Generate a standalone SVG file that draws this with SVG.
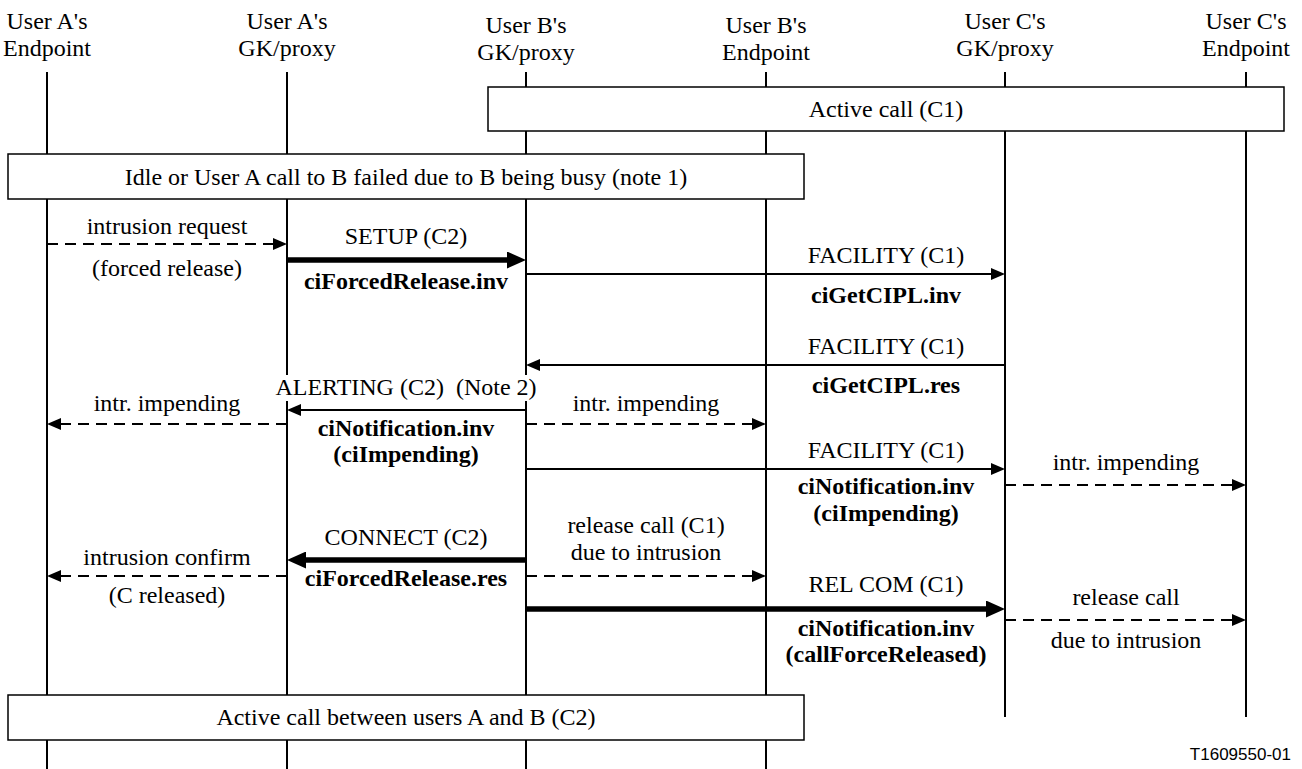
<svg xmlns="http://www.w3.org/2000/svg" width="1302" height="769" viewBox="0 0 1302 769">
  <defs>
    <style>
      text { font-family: "Liberation Serif", "Times New Roman", serif; font-size: 24px; fill: #000; text-anchor: middle; }
      .b { font-weight: bold; }
      .life { stroke: #000; stroke-width: 2; }
      .box { fill: #fff; stroke: #000; stroke-width: 1.5; }
      .msg { stroke: #000; stroke-width: 2; fill: none; }
      .thick { stroke-width: 5.5; }
      .dash { stroke-dasharray: 11 7; }
      .ref { font-family: "Liberation Sans", Arial, sans-serif; font-size: 17px; text-anchor: end; }
    </style>
    <marker id="ah" markerUnits="userSpaceOnUse" markerWidth="14" markerHeight="12" refX="0" refY="6" orient="auto">
      <path d="M0,0 L14,6 L0,12 z" fill="#000"/>
    </marker>
    <marker id="ahT" markerUnits="userSpaceOnUse" markerWidth="19" markerHeight="17" refX="0" refY="8.5" orient="auto">
      <path d="M0,0 L19,8.5 L0,17 z" fill="#000"/>
    </marker>
  </defs>

  <rect x="0" y="0" width="1302" height="769" fill="#fff"/>

  <!-- participants: header text and lifeline -->
  <g id="a-endpoint">
    <text x="47" y="29">User A's</text>
    <text x="47" y="56">Endpoint</text>
    <line class="life" x1="47" y1="72" x2="47" y2="769"/>
  </g>
  <g id="a-gk">
    <text x="287" y="29">User A's</text>
    <text x="287" y="56">GK/proxy</text>
    <line class="life" x1="287" y1="72" x2="287" y2="769"/>
  </g>
  <g id="b-gk">
    <text x="526" y="33">User B's</text>
    <text x="526" y="60">GK/proxy</text>
    <line class="life" x1="526" y1="72" x2="526" y2="769"/>
  </g>
  <g id="b-endpoint">
    <text x="766" y="33">User B's</text>
    <text x="766" y="60">Endpoint</text>
    <line class="life" x1="766" y1="72" x2="766" y2="769"/>
  </g>
  <g id="c-gk">
    <text x="1005" y="29">User C's</text>
    <text x="1005" y="56">GK/proxy</text>
    <line class="life" x1="1005" y1="72" x2="1005" y2="717"/>
  </g>
  <g id="c-endpoint">
    <text x="1246" y="29">User C's</text>
    <text x="1246" y="56">Endpoint</text>
    <line class="life" x1="1246" y1="72" x2="1246" y2="717"/>
  </g>

  <!-- state boxes -->
  <g id="state-active-c1">
    <rect class="box" x="488" y="87" width="796" height="44"/>
    <text x="886" y="117">Active call (C1)</text>
  </g>
  <g id="state-idle">
    <rect class="box" x="8" y="154" width="796" height="45"/>
    <text x="406" y="185">Idle or User A call to B failed due to B being busy (note 1)</text>
  </g>
  <g id="state-active-c2">
    <rect class="box" x="8" y="695" width="796" height="45"/>
    <text x="406" y="725">Active call between users A and B (C2)</text>
  </g>

  <!-- messages -->
  <g id="connectors">
    <line class="msg dash" x1="47" y1="244" x2="273" y2="244" marker-end="url(#ah)"/>
    <line class="msg thick" x1="287" y1="260" x2="507" y2="260" marker-end="url(#ahT)"/>
    <line class="msg" x1="526" y1="274" x2="991" y2="274" marker-end="url(#ah)"/>
    <line class="msg" x1="1005" y1="365" x2="540" y2="365" marker-end="url(#ah)"/>
    <line class="msg" x1="526" y1="410" x2="301" y2="410" marker-end="url(#ah)"/>
    <line class="msg dash" x1="287" y1="424" x2="61" y2="424" marker-end="url(#ah)"/>
    <line class="msg dash" x1="526" y1="424" x2="752" y2="424" marker-end="url(#ah)"/>
    <line class="msg" x1="526" y1="469" x2="991" y2="469" marker-end="url(#ah)"/>
    <line class="msg dash" x1="1005" y1="485" x2="1232" y2="485" marker-end="url(#ah)"/>
    <line class="msg thick" x1="526" y1="560" x2="306" y2="560" marker-end="url(#ahT)"/>
    <line class="msg dash" x1="287" y1="576" x2="61" y2="576" marker-end="url(#ah)"/>
    <line class="msg dash" x1="526" y1="576" x2="752" y2="576" marker-end="url(#ah)"/>
    <line class="msg thick" x1="526" y1="609" x2="986" y2="609" marker-end="url(#ahT)"/>
    <line class="msg dash" x1="1005" y1="620" x2="1232" y2="620" marker-end="url(#ah)"/>
  </g>

  <!-- message labels -->
  <g id="labels">
    <text x="167" y="234">intrusion request</text>
    <text x="167" y="276">(forced release)</text>

    <text x="406" y="244">SETUP (C2)</text>
    <text class="b" x="406" y="289">ciForcedRelease.inv</text>

    <text x="886" y="263">FACILITY (C1)</text>
    <text class="b" x="886" y="303">ciGetCIPL.inv</text>

    <text x="886" y="354">FACILITY (C1)</text>
    <text class="b" x="886" y="393">ciGetCIPL.res</text>

    <rect x="275" y="375" width="263" height="26" fill="#fff"/>
    <text x="406" y="395" xml:space="preserve">ALERTING (C2)  (Note 2)</text>
    <text class="b" x="406" y="436">ciNotification.inv</text>
    <text class="b" x="406" y="462">(ciImpending)</text>

    <text x="167" y="411">intr. impending</text>
    <text x="646" y="411">intr. impending</text>

    <text x="886" y="458">FACILITY (C1)</text>
    <text class="b" x="886" y="494">ciNotification.inv</text>
    <text class="b" x="886" y="521">(ciImpending)</text>

    <text x="1126" y="470">intr. impending</text>

    <text x="406" y="545">CONNECT (C2)</text>
    <text class="b" x="406" y="586">ciForcedRelease.res</text>

    <text x="167" y="565">intrusion confirm</text>
    <text x="167" y="603">(C released)</text>

    <text x="646" y="533">release call (C1)</text>
    <text x="646" y="560">due to intrusion</text>

    <text x="886" y="592">REL COM (C1)</text>
    <text class="b" x="886" y="636">ciNotification.inv</text>
    <text class="b" x="886" y="662">(callForceReleased)</text>

    <text x="1126" y="605">release call</text>
    <text x="1126" y="648">due to intrusion</text>
  </g>

  <text class="ref" x="1291" y="760">T1609550-01</text>
</svg>
